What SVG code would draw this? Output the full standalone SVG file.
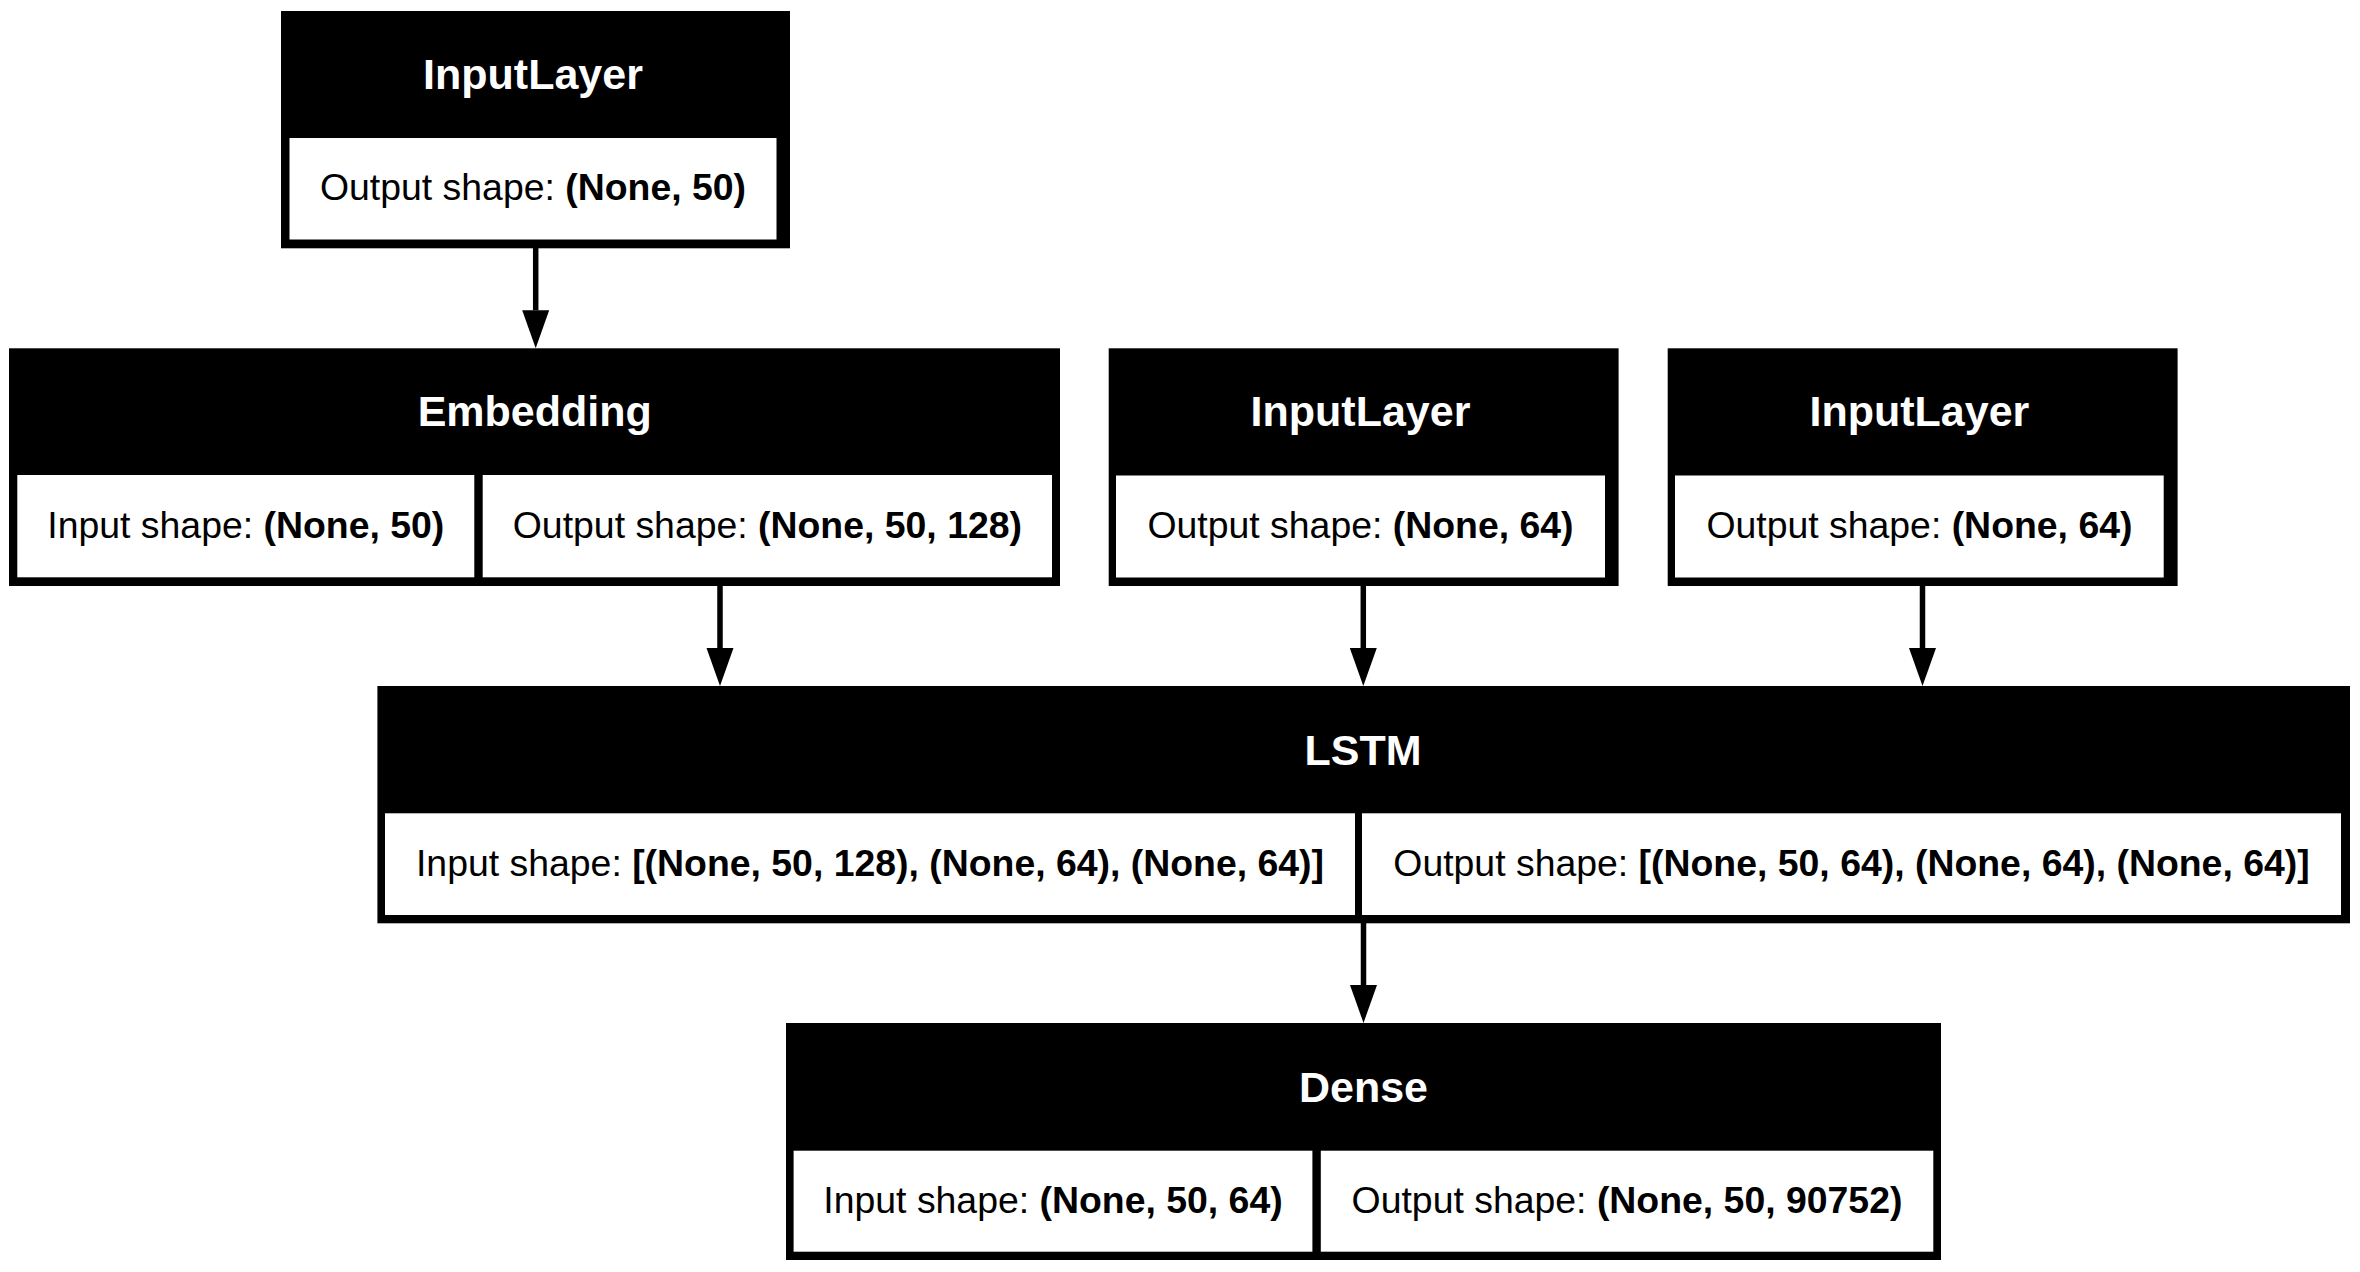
<svg xmlns="http://www.w3.org/2000/svg" width="2360" height="1272" viewBox="0 0 2360 1272">
<style>
.frame{fill:#000;}
.cell{fill:#fff;}
.title{font-family:"Liberation Sans",Arial,Helvetica,sans-serif;font-size:43px;font-weight:bold;fill:#fff;text-anchor:middle;}
.body{font-family:"Liberation Sans",Arial,Helvetica,sans-serif;font-size:37.4px;fill:#000;text-anchor:middle;}
.b{font-weight:bold;}
.edge{stroke:#000;stroke-width:5.5;fill:none;}
</style>
<defs>
<marker id="arrow" markerUnits="userSpaceOnUse" markerWidth="40" markerHeight="28" refX="0" refY="13.5" orient="auto" viewBox="0 0 40 28">
<path d="M0,0 L38,13.5 L0,27 z" fill="#000"/>
</marker>
</defs>
<rect width="2360" height="1272" fill="#fff"/>
<g id="connectors">
<line class="edge" x1="535.7" y1="248" x2="535.7" y2="310.3" marker-end="url(#arrow)"/>
<line class="edge" x1="720" y1="586" x2="720" y2="648" marker-end="url(#arrow)"/>
<line class="edge" x1="1363.3" y1="586" x2="1363.3" y2="648" marker-end="url(#arrow)"/>
<line class="edge" x1="1922.5" y1="586" x2="1922.5" y2="648" marker-end="url(#arrow)"/>
<line class="edge" x1="1363.5" y1="923" x2="1363.5" y2="985" marker-end="url(#arrow)"/>
</g>
<g id="input_layer_1">
<rect class="frame" x="281" y="11" width="509" height="237.3"/>
<rect class="cell" x="289.5" y="138" width="487" height="101.5"/>
<text class="title" x="533" y="89">InputLayer</text>
<text class="body" x="533" y="200">Output shape: <tspan class="b">(None, 50)</tspan></text>
</g>
<g id="embedding">
<rect class="frame" x="9" y="348.3" width="1051" height="237.7"/>
<rect class="cell" x="17.3" y="475" width="457" height="102.3"/>
<rect class="cell" x="482.7" y="475" width="569.3" height="102.3"/>
<text class="title" x="534.7" y="426">Embedding</text>
<text class="body" x="245.8" y="537.5">Input shape: <tspan class="b">(None, 50)</tspan></text>
<text class="body" x="767.4" y="537.5">Output shape: <tspan class="b">(None, 50, 128)</tspan></text>
</g>
<g id="input_layer_2">
<rect class="frame" x="1108.7" y="348.3" width="509.9" height="237.7"/>
<rect class="cell" x="1116" y="475.5" width="489" height="102"/>
<text class="title" x="1360.5" y="426">InputLayer</text>
<text class="body" x="1360.5" y="538">Output shape: <tspan class="b">(None, 64)</tspan></text>
</g>
<g id="input_layer_3">
<rect class="frame" x="1667.7" y="348.3" width="509.9" height="237.7"/>
<rect class="cell" x="1675" y="475.5" width="488.7" height="102"/>
<text class="title" x="1919.4" y="426">InputLayer</text>
<text class="body" x="1919.4" y="538">Output shape: <tspan class="b">(None, 64)</tspan></text>
</g>
<g id="lstm">
<rect class="frame" x="377.4" y="686" width="1972.6" height="237.3"/>
<rect class="cell" x="385" y="813.3" width="970" height="101.7"/>
<rect class="cell" x="1362" y="813.3" width="979" height="101.7"/>
<text class="title" x="1363" y="764.5">LSTM</text>
<text class="body" x="870" y="875.6">Input shape: <tspan class="b">[(None, 50, 128), (None, 64), (None, 64)]</tspan></text>
<text class="body" x="1851.5" y="875.6">Output shape: <tspan class="b">[(None, 50, 64), (None, 64), (None, 64)]</tspan></text>
</g>
<g id="dense">
<rect class="frame" x="786" y="1023" width="1155" height="237"/>
<rect class="cell" x="793.6" y="1150.7" width="518.8" height="101"/>
<rect class="cell" x="1320.8" y="1150.7" width="612.5" height="101"/>
<text class="title" x="1363.5" y="1102">Dense</text>
<text class="body" x="1053" y="1212.7">Input shape: <tspan class="b">(None, 50, 64)</tspan></text>
<text class="body" x="1627" y="1212.7">Output shape: <tspan class="b">(None, 50, 90752)</tspan></text>
</g>
</svg>
